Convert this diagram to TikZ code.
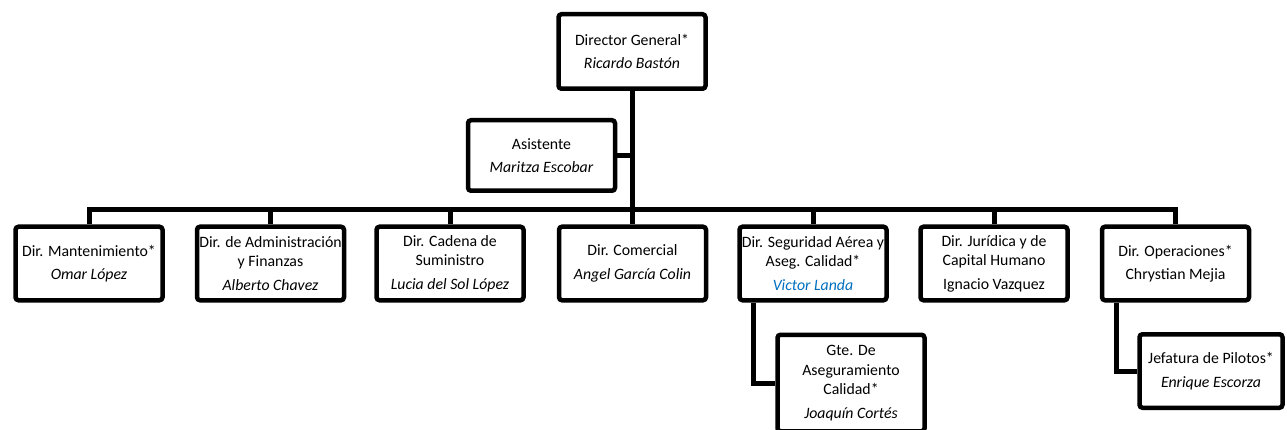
\documentclass[tikz,border=0pt]{standalone}
\usepackage{fontspec}
\setmainfont{Carlito}
\usepackage{tikz}
\usepackage{xcolor}
\definecolor{word-blue}{RGB}{0,112,192}
\tikzset{
    org-box/.style = {draw=black, fill=white, line width=4.5pt, rectangle, rounded corners=3pt, align=center, minimum width=147pt, inner sep=0pt, minimum height=#1, font=\fontsize{15.8}{19.5}\selectfont},
    org-box/.default = 73.5pt,
    org-link/.style = {draw=black, line width=5pt},
}

\begin{document}
\begin{tikzpicture}[x=1pt, y=-1pt]
\useasboundingbox (0,0) rectangle (1287,430);
\node[org-box=74.5pt] (dg) at (632,51.5) {Director General*\\[4pt] \textit{Ricardo Bastón}};
\node[org-box=70.5pt] (asis) at (541.5,155.5) {Asistente\\[4pt] \textit{Maritza Escobar}};
\coordinate (bus) at (632,210);

\node[org-box] (mant) at (89,263.5) {Dir. Mantenimiento*\\[4pt] \textit{Omar López}};
\node[org-box] (admin) at (270.5,263.5) {Dir. de Administración\\ y Finanzas\\[4pt] \textit{Alberto Chavez}};
\node[org-box] (cadena) at (450,263.5) {Dir. Cadena de\\ Suministro\\[4pt] \textit{Lucia del Sol López}};
\node[org-box] (comercial) at (632.5,263.5) {Dir. Comercial\\[4pt] \textit{Angel García Colin}};
\node[org-box] (segur) at (813,263.5) {Dir. Seguridad Aérea y\\ Aseg. Calidad*\\[4pt] \textcolor{word-blue}{\textit{Victor Landa}}};
\node[org-box] (juridica) at (994,263.5) {Dir. Jurídica y de\\ Capital Humano\\[4pt] Ignacio Vazquez};
\node[org-box] (oper) at (1175.5,263.5) {Dir. Operaciones*\\[4pt] Chrystian Mejia};

\node[org-box=96.5pt] (gte) at (851,383) {Gte. De\\ Aseguramiento\\ Calidad*\\[4pt] \textit{Joaquín Cortés}};
\node[org-box, minimum width=143pt] (jefe) at (1211,371) {Jefatura de Pilotos*\\[4pt] \textit{Enrique Escorza}};

\draw[org-link] (dg.south) -- (dg.south |- comercial.north);
\draw[org-link] (asis.east) -- (asis.east -| dg.south);
\draw[org-link] (mant.north) |- (bus) -| (oper.north);
\foreach \n in {admin,cadena,segur,juridica}
    \draw[org-link] (\n.north) -- (\n.north |- bus);
\draw[org-link] ([xshift=16pt]segur.south west) |- (gte.west);
\draw[org-link] ([xshift=17pt]oper.south west) |- (jefe.west);
\end{tikzpicture}
\end{document}
